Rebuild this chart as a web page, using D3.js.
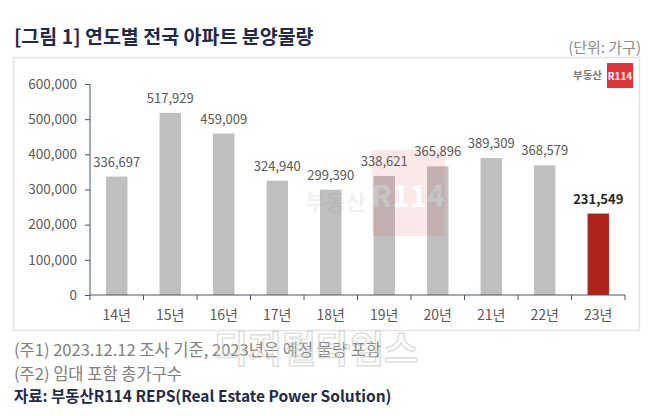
<!DOCTYPE html>
<html>
<head>
<meta charset="utf-8">
<script src="https://cdn.jsdelivr.net/npm/d3@7"></script>
<style>
  body { margin: 0; background: #fff; }
  svg { display: block; font-family: "Noto Sans CJK KR", "Noto Sans", sans-serif; }
</style>
</head>
<body>
<svg id="chart" width="658" height="416"></svg>
<script>
// data
var years = ["14년", "15년", "16년", "17년", "18년", "19년", "20년", "21년", "22년", "23년"];
var supply = [336697, 517929, 459009, 324940, 299390, 338621, 365896, 389309, 368579, 231549];
var yTicks = [0, 100000, 200000, 300000, 400000, 500000, 600000];

var svg = d3.select("#chart");
// note: "top" is reserved on window, so plot edges get their own names
var plotL = 90, plotR = 625, plotT = 84, plotB = 295;

// outer frame
svg.append("rect")
  .attr("x", 13.5).attr("y", 57.5)
  .attr("width", 626).attr("height", 273)
  .attr("fill", "none").attr("stroke", "#e3e3e3").attr("stroke-width", 1.5);

// title + unit
svg.append("text").attr("x", 14).attr("y", 44)
  .attr("font-size", 19.5).attr("font-weight", "bold").attr("fill", "#1f2a4a")
  .text("[그림 1] 연도별 전국 아파트 분양물량");
svg.append("text").attr("x", 641).attr("y", 53)
  .attr("text-anchor", "end").attr("font-size", 15).attr("fill", "#8c8c8c")
  .text("(단위: 가구)");

// logo top right
svg.append("text").attr("x", 602).attr("y", 79)
  .attr("text-anchor", "end").attr("font-size", 10.5).attr("font-weight", "bold").attr("fill", "#7a7a7a")
  .text("부동산");
svg.append("rect").attr("x", 607).attr("y", 63).attr("width", 26).attr("height", 25).attr("fill", "#e0353b");
svg.append("text").attr("x", 620).attr("y", 80)
  .attr("text-anchor", "middle").attr("font-size", 10).attr("font-weight", "bold").attr("fill", "#fff")
  .text("R114");

var x = d3.scaleBand().domain(years).range([plotL, plotR]).paddingInner(0.6).paddingOuter(0.3);
var y = d3.scaleLinear().domain([0, 600000]).range([plotB, plotT]);

// bars
svg.selectAll("rect.bar").data(supply).enter().append("rect")
  .attr("class", "bar")
  .attr("x", function(d, i){ return x(years[i]); })
  .attr("y", function(d){ return y(d); })
  .attr("width", x.bandwidth())
  .attr("height", function(d){ return plotB - y(d); })
  .attr("fill", function(d, i){ return i == years.length - 1 ? "#b0231b" : "#bfbfbf"; });

// faint R114 watermark over the bars
var wm = svg.append("g").attr("opacity", 0.11);
wm.append("rect").attr("x", 372).attr("y", 150).attr("width", 73).attr("height", 86).attr("fill", "#e0353b");
wm.append("text").attr("x", 408).attr("y", 207).attr("text-anchor", "middle")
  .attr("font-size", 30).attr("font-weight", "bold").attr("fill", "#fff").text("R114");
wm.append("text").attr("x", 366).attr("y", 210).attr("text-anchor", "end")
  .attr("font-size", 22).attr("font-weight", "bold").attr("fill", "#888").text("부동산");

// value labels
svg.selectAll("text.val").data(supply).enter().append("text")
  .attr("class", "val")
  .attr("x", function(d, i){ return x(years[i]) + x.bandwidth() / 2; })
  .attr("y", function(d){ return y(d) - 10; })
  .attr("text-anchor", "middle")
  .attr("font-size", 13)
  .attr("font-weight", function(d, i){ return i == years.length - 1 ? "bold" : "normal"; })
  .attr("fill", function(d, i){ return i == years.length - 1 ? "#262626" : "#595959"; })
  .text(d3.format(","));

// y axis
var yAxis = svg.append("g").attr("transform", "translate(" + plotL + ",0)")
  .call(d3.axisLeft(y).tickValues(yTicks).tickSize(5).tickFormat(d3.format(",")));
yAxis.select(".domain").remove();
yAxis.append("line").attr("y1", plotT).attr("y2", plotB);
yAxis.selectAll("line").attr("stroke", "#44546a");
yAxis.selectAll("text").attr("font-size", 13.5).attr("fill", "#595959")
  .attr("font-family", "'Noto Sans CJK KR', sans-serif").attr("x", -13);

// x axis with ticks on category boundaries
var xAxis = svg.append("g").attr("transform", "translate(0," + plotB + ")");
xAxis.append("line").attr("x1", plotL).attr("x2", plotR).attr("stroke", "#44546a");
var bounds = d3.range(years.length + 1).map(function(i){ return plotL + i * x.step(); });
xAxis.selectAll("line.tk").data(bounds).enter().append("line")
  .attr("class", "tk")
  .attr("x1", function(d){ return d; }).attr("x2", function(d){ return d; })
  .attr("y1", 0).attr("y2", 5).attr("stroke", "#44546a");
xAxis.selectAll("text").data(years).enter().append("text")
  .attr("x", function(d){ return x(d) + x.bandwidth() / 2; })
  .attr("y", 25).attr("text-anchor", "middle")
  .attr("font-size", 14).attr("fill", "#595959")
  .text(function(d){ return d; });

// footnotes
svg.append("text").attr("x", 14).attr("y", 356)
  .attr("font-size", 16.5).attr("fill", "#808080")
  .text("(주1) 2023.12.12 조사 기준, 2023년은 예정 물량 포함");
svg.append("text").attr("x", 14).attr("y", 380)
  .attr("font-size", 16.5).attr("fill", "#808080")
  .text("(주2) 임대 포함 총가구수");
svg.append("text").attr("x", 14).attr("y", 402)
  .attr("font-size", 15.5).attr("font-weight", "bold").attr("fill", "#1f2a4a")
  .text("자료: 부동산R114 REPS(Real Estate Power Solution)");

// news watermark, outlined
svg.append("text").attr("x", 214).attr("y", 363)
  .attr("font-size", 37).attr("font-weight", "bold")
  .attr("fill", "none").attr("stroke", "#cfcfcf").attr("stroke-width", 1.2)
  .attr("opacity", 0.8)
  .text("디지털타임스");
</script>
</body>
</html>
